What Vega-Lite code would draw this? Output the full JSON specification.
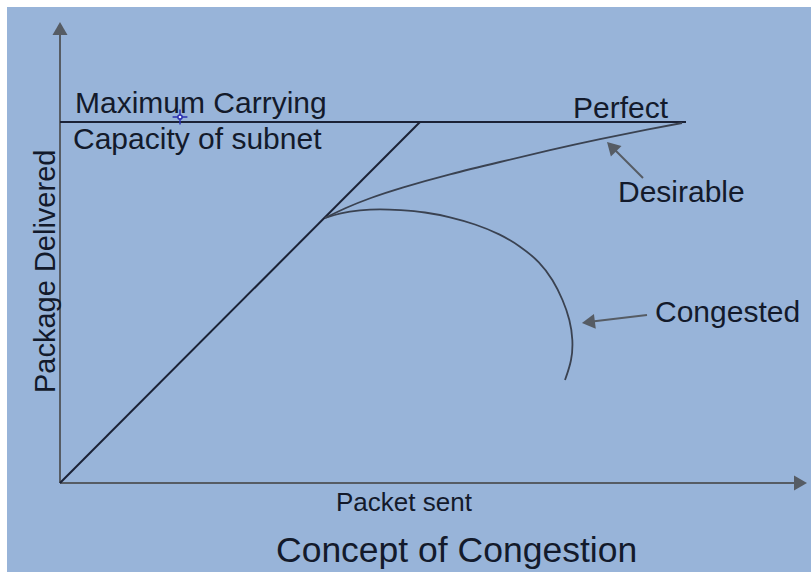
{
  "$schema": "https://vega.github.io/schema/vega-lite/v6.json",
  "width": 811,
  "height": 572,
  "padding": 0,
  "autosize": {"type": "fit", "contains": "padding"},
  "background": "white",
  "config": {"view": {"stroke": null}},
  "datasets": {
    "panel": [{"x": -53, "x2": 751, "y": -89, "y2": 476}],
    "axes": [
      {"series": "yaxis", "ord": 0, "x": 0, "y": 0},
      {"series": "yaxis", "ord": 1, "x": 0, "y": 455},
      {"series": "xaxis", "ord": 0, "x": 0, "y": 0},
      {"series": "xaxis", "ord": 1, "x": 741, "y": 0},
      {"series": "arrowD", "ord": 0, "x": 583, "y": 305},
      {"series": "arrowD", "ord": 1, "x": 551, "y": 337},
      {"series": "arrowC", "ord": 0, "x": 587, "y": 168},
      {"series": "arrowC", "ord": 1, "x": 528, "y": 161}
    ],
    "heads": [
      {"x": 0, "y": 454.5, "angle": 0},
      {"x": 740.5, "y": 0, "angle": 90},
      {"x": 551.6, "y": 336.4, "angle": -45},
      {"x": 528.4, "y": 160.8, "angle": -97}
    ],
    "straight": [
      {"series": "capacity", "ord": 0, "x": 0, "y": 361},
      {"series": "capacity", "ord": 1, "x": 626, "y": 361},
      {"series": "ideal", "ord": 0, "x": 0, "y": 0},
      {"series": "ideal", "ord": 1, "x": 360, "y": 361}
    ],
    "curves": [
      {"series": "Desirable", "ord": 0, "x": 265, "y": 265},
      {"series": "Desirable", "ord": 1, "x": 285, "y": 275},
      {"series": "Desirable", "ord": 2, "x": 310, "y": 285},
      {"series": "Desirable", "ord": 3, "x": 340, "y": 295},
      {"series": "Desirable", "ord": 4, "x": 390, "y": 309},
      {"series": "Desirable", "ord": 5, "x": 440, "y": 321},
      {"series": "Desirable", "ord": 6, "x": 490, "y": 333},
      {"series": "Desirable", "ord": 7, "x": 540, "y": 344},
      {"series": "Desirable", "ord": 8, "x": 590, "y": 354},
      {"series": "Desirable", "ord": 9, "x": 622, "y": 360},
      {"series": "Congested", "ord": 0, "x": 265, "y": 265},
      {"series": "Congested", "ord": 1, "x": 280, "y": 270},
      {"series": "Congested", "ord": 2, "x": 300, "y": 273},
      {"series": "Congested", "ord": 3, "x": 320, "y": 274},
      {"series": "Congested", "ord": 4, "x": 340, "y": 273},
      {"series": "Congested", "ord": 5, "x": 365, "y": 271},
      {"series": "Congested", "ord": 6, "x": 390, "y": 266},
      {"series": "Congested", "ord": 7, "x": 415, "y": 259},
      {"series": "Congested", "ord": 8, "x": 440, "y": 249},
      {"series": "Congested", "ord": 9, "x": 460, "y": 237},
      {"series": "Congested", "ord": 10, "x": 480, "y": 221},
      {"series": "Congested", "ord": 11, "x": 493, "y": 203},
      {"series": "Congested", "ord": 12, "x": 503, "y": 183},
      {"series": "Congested", "ord": 13, "x": 510, "y": 163},
      {"series": "Congested", "ord": 14, "x": 513, "y": 143},
      {"series": "Congested", "ord": 15, "x": 512, "y": 123},
      {"series": "Congested", "ord": 16, "x": 505, "y": 103}
    ],
    "labels": [
      {"label": "Maximum Carrying", "x": 15, "y": 370},
      {"label": "Capacity of subnet", "x": 13, "y": 334},
      {"label": "Perfect", "x": 513, "y": 365},
      {"label": "Desirable", "x": 558, "y": 281},
      {"label": "Congested", "x": 595, "y": 161}
    ],
    "xlabel": [{"label": "Packet sent", "x": 276, "y": -28}],
    "title": [{"label": "Concept of Congestion", "x": 216, "y": -79}],
    "ylabel": [{"label": "Package Delivered", "x": -5, "y": 90}],
    "cursor": [{"x": 120, "y": 366}]
  },
  "layer": [
    {
      "data": {"name": "panel"},
      "mark": {"type": "rect", "fill": "#98b4d9"},
      "encoding": {
        "x": {"field": "x", "type": "quantitative", "scale": {"domain": [-60, 751], "nice": false, "zero": false}, "axis": null},
        "x2": {"field": "x2"},
        "y": {"field": "y", "type": "quantitative", "scale": {"domain": [-89, 483], "nice": false, "zero": false}, "axis": null},
        "y2": {"field": "y2"}
      }
    },
    {
      "data": {"name": "axes"},
      "mark": {"type": "line", "stroke": "#565c64", "strokeWidth": 2},
      "encoding": {
        "x": {"field": "x", "type": "quantitative", "axis": null},
        "y": {"field": "y", "type": "quantitative", "axis": null},
        "detail": {"field": "series"},
        "order": {"field": "ord"}
      }
    },
    {
      "data": {"name": "heads"},
      "mark": {"type": "point", "shape": "triangle-up", "filled": true, "size": 225, "color": "#565c64", "opacity": 1},
      "encoding": {
        "x": {"field": "x", "type": "quantitative", "axis": null},
        "y": {"field": "y", "type": "quantitative", "axis": null},
        "angle": {"field": "angle", "type": "quantitative", "scale": null}
      }
    },
    {
      "data": {"name": "straight"},
      "mark": {"type": "line", "stroke": "#1b2236", "strokeWidth": 2},
      "encoding": {
        "x": {"field": "x", "type": "quantitative", "axis": null},
        "y": {"field": "y", "type": "quantitative", "axis": null},
        "detail": {"field": "series"},
        "order": {"field": "ord"},
        "strokeWidth": {"condition": {"test": "datum.series === 'capacity'", "value": 2.5}, "value": 1.5}
      }
    },
    {
      "data": {"name": "curves"},
      "mark": {"type": "line", "stroke": "#3a4251", "strokeWidth": 1.8, "interpolate": "basis"},
      "encoding": {
        "x": {"field": "x", "type": "quantitative", "axis": null},
        "y": {"field": "y", "type": "quantitative", "axis": null},
        "detail": {"field": "series"},
        "order": {"field": "ord"}
      }
    },
    {
      "data": {"name": "labels"},
      "mark": {"type": "text", "align": "left", "baseline": "alphabetic", "font": "Liberation Sans", "fontSize": 30, "color": "#131a2b"},
      "encoding": {
        "x": {"field": "x", "type": "quantitative", "axis": null},
        "y": {"field": "y", "type": "quantitative", "axis": null},
        "text": {"field": "label"}
      }
    },
    {
      "data": {"name": "xlabel"},
      "mark": {"type": "text", "align": "left", "baseline": "alphabetic", "font": "Liberation Sans", "fontSize": 26, "color": "#131a2b"},
      "encoding": {
        "x": {"field": "x", "type": "quantitative", "axis": null},
        "y": {"field": "y", "type": "quantitative", "axis": null},
        "text": {"field": "label"}
      }
    },
    {
      "data": {"name": "title"},
      "mark": {"type": "text", "align": "left", "baseline": "alphabetic", "font": "Liberation Sans", "fontSize": 35.5, "color": "#131a2b"},
      "encoding": {
        "x": {"field": "x", "type": "quantitative", "axis": null},
        "y": {"field": "y", "type": "quantitative", "axis": null},
        "text": {"field": "label"}
      }
    },
    {
      "data": {"name": "ylabel"},
      "mark": {"type": "text", "align": "left", "baseline": "alphabetic", "angle": 270, "font": "Liberation Sans", "fontSize": 29, "color": "#131a2b"},
      "encoding": {
        "x": {"field": "x", "type": "quantitative", "axis": null},
        "y": {"field": "y", "type": "quantitative", "axis": null},
        "text": {"field": "label"}
      }
    },
    {
      "data": {"name": "cursor"},
      "mark": {"type": "point", "shape": "M-1,0L1,0M0,-1L0,1", "size": 220, "stroke": "#2a2fb0", "strokeWidth": 1.5, "opacity": 1},
      "encoding": {
        "x": {"field": "x", "type": "quantitative", "axis": null},
        "y": {"field": "y", "type": "quantitative", "axis": null}
      }
    },
    {
      "data": {"name": "cursor"},
      "mark": {"type": "point", "shape": "circle", "size": 18, "stroke": "#2a2fb0", "fill": "#e8ecff", "filled": false, "strokeWidth": 1.5, "opacity": 1},
      "encoding": {
        "x": {"field": "x", "type": "quantitative", "axis": null},
        "y": {"field": "y", "type": "quantitative", "axis": null}
      }
    }
  ]
}
